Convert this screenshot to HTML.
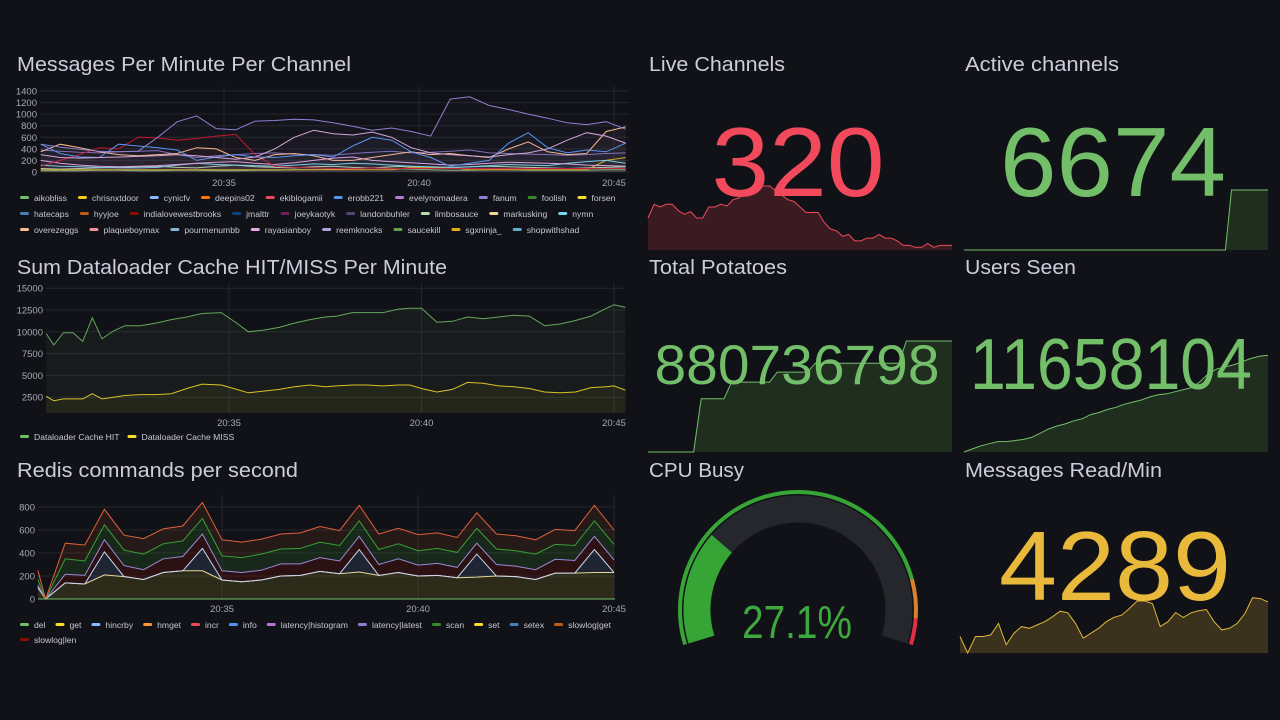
<!DOCTYPE html>
<html><head><meta charset="utf-8"><style>
html,body{margin:0;padding:0;background:#111217;}
svg{display:block;font-family:"Liberation Sans",sans-serif;}
.title{fill:#ccccdc;font-size:20px;}
.tick{fill:#a8a9b3;font-size:9.5px;}
.leg{fill:#c7c8d2;font-size:8.6px;}
</style></head><body>
<svg id="root" width="1280" height="720" viewBox="0 0 1280 720">
<rect width="1280" height="720" fill="#111217"/>
<text class="title" x="17" y="71" textLength="334" lengthAdjust="spacingAndGlyphs">Messages Per Minute Per Channel</text>
<text class="title" x="17" y="274" textLength="430" lengthAdjust="spacingAndGlyphs">Sum Dataloader Cache HIT/MISS Per Minute</text>
<text class="title" x="17" y="477" textLength="281" lengthAdjust="spacingAndGlyphs">Redis commands per second</text>
<text class="title" x="649" y="71" textLength="136" lengthAdjust="spacingAndGlyphs">Live Channels</text>
<text class="title" x="965" y="71" textLength="154" lengthAdjust="spacingAndGlyphs">Active channels</text>
<text class="title" x="649" y="274" textLength="138" lengthAdjust="spacingAndGlyphs">Total Potatoes</text>
<text class="title" x="965" y="274" textLength="111" lengthAdjust="spacingAndGlyphs">Users Seen</text>
<text class="title" x="649" y="477" textLength="95" lengthAdjust="spacingAndGlyphs">CPU Busy</text>
<text class="title" x="965" y="477" textLength="197" lengthAdjust="spacingAndGlyphs">Messages Read/Min</text>
<g id="g1"></g>
<g id="g2"></g>
<g id="g3"></g>
<g id="gs"></g>
</svg>
<script>
// ---------- Chart 1 data ----------
const times1 = [0.3,0.8,1.3,1.8,2.3,2.8,3.3,3.8,4.3,4.8,5.3,5.8,6.3,6.8,7.3,7.8,8.3,8.8,9.3,9.8,10.3,10.8,11.3,11.8,12.3,12.8,13.3,13.8,14.3,14.8,15.3];
const ticks1 = [0,200,400,600,800,1000,1200,1400];
const xTickLabels = ["20:35","20:40","20:45"];
const xTickTimes = [5,10,15];
const fanumVals = [480,430,390,360,350,360,600,870,970,750,730,880,890,910,900,850,790,720,760,700,620,1260,1300,1150,1080,1000,930,850,820,870,740];
const rayaVals = [300,250,240,250,260,270,280,300,280,250,220,260,400,600,720,660,640,690,600,420,330,300,280,260,300,330,400,550,680,620,500];
const indiaVals = [100,200,300,420,400,600,590,550,580,620,650,300,100,80,70,60,60,70,60,60,60,60,60,60,60,60,60,60,60,60,60];
const erobbVals = [480,320,260,250,480,450,420,380,200,260,300,260,250,280,300,260,450,600,550,350,250,100,150,200,500,680,420,330,380,350,500];
const hyyjoeVals = [350,480,420,350,300,280,300,320,420,400,250,200,300,320,280,200,200,250,300,350,300,320,280,250,400,520,350,300,320,700,780];
const landonVals = [380,360,340,330,350,360,370,300,250,280,300,320,330,310,300,290,320,340,360,330,340,360,380,330,320,310,300,290,300,320,330];
const sgxVals = [40,40,40,40,40,40,40,40,40,40,40,40,40,40,40,40,40,40,40,80,80,80,40,40,40,40,40,40,40,200,250];
const nymnVals = [120,100,90,80,70,70,80,120,150,130,120,110,100,120,140,130,150,140,120,100,90,80,90,110,130,120,110,150,180,200,150];
const limboVals = [60,50,60,70,80,90,100,80,70,100,120,90,80,70,90,100,80,70,90,100,80,70,90,100,90,80,70,60,70,80,90];
const plaqueVals = [200,150,120,100,90,100,110,130,150,170,180,150,130,160,200,240,260,200,180,160,140,120,130,150,170,160,150,140,120,110,100];
const aikoVals = [20,20,20,30,30,20,20,30,30,20,20,30,30,40,40,50,60,70,60,50,40,30,30,40,40,30,30,30,30,40,40];
const legend1Names = ["aikobliss","chrisnxtdoor","cynicfv","deepins02","ekiblogamii","erobb221","evelynomadera","fanum","foolish","forsen","hatecaps","hyyjoe","indialovewestbrooks","jmalttr","joeykaotyk","landonbuhler","limbosauce","markusking","nymn","overezeggs","plaqueboymax","pourmenumbb","rayasianboy","reemknocks","saucekill","sgxninja_","shopwithshad"];
const legend1Colors = ["#73bf69","#f2cc0c","#8ab8ff","#ff780a","#f2495c","#5794f2","#b877d9","#8f7fd0","#37872d","#fade2a","#447ebc","#c15c17","#890f02","#0a437c","#6d1f62","#584477","#b7dbab","#f4d598","#70dbed","#f9ba8f","#f29191","#82b5d8","#e5a8e2","#aea2e0","#629e51","#e5ac0e","#64b0c8"];

// ---------- Chart 2 data ----------
const times2 = [0.25,0.45,0.7,0.95,1.2,1.45,1.7,2.0,2.3,2.7,3.1,3.5,3.9,4.3,4.8,5.2,5.5,5.9,6.3,6.7,7.1,7.5,7.8,8.2,8.6,9.0,9.4,9.7,10.0,10.4,10.8,11.2,11.6,12.0,12.4,12.8,13.2,13.6,14.0,14.4,14.8,15.0,15.3];
const hitVals = [9800,8500,9900,9900,8900,11600,9200,10100,10700,10700,11000,11400,11700,12100,12200,11000,10000,10200,10500,11000,11400,11700,11800,12200,12200,12200,12600,12700,12700,11100,11200,11700,11500,11700,11900,11800,10700,10900,11300,11800,12700,13100,12800];
const missVals = [2600,2100,2300,2300,2300,2900,2300,2500,2700,2800,2800,2900,3500,4000,3900,3400,3000,3200,3400,3700,3900,3700,3800,3900,3900,3800,3900,3900,3500,3100,3400,4200,4100,3800,3700,3500,3100,3000,3100,3600,3700,3800,3300];
const ticks2 = [2500,5000,7500,10000,12500,15000];

// ---------- Chart 3 data ----------
const times3 = [0.3,0.5,1.0,1.5,2.0,2.5,3.0,3.5,4.0,4.5,5.0,5.5,6.0,6.5,7.0,7.5,8.0,8.5,9.0,9.5,10.0,10.5,11.0,11.5,12.0,12.5,13.0,13.5,14.0,14.5,15.0];
const getVals = [100,0,140,130,210,195,170,230,245,245,165,150,165,200,205,240,220,235,205,230,200,205,185,190,200,195,170,225,225,230,230];
const hincrbyVals = [0,0,0,0,200,0,0,0,0,195,0,0,0,0,0,0,0,195,0,0,0,0,0,200,0,0,0,0,0,200,0];
const slowlenVals = [20,0,75,75,105,95,85,120,125,125,80,80,85,105,100,120,110,115,95,120,95,105,90,95,100,90,85,120,110,115,110];
const scanVals = [50,0,135,125,130,135,135,130,135,135,130,130,140,130,135,135,135,135,130,130,125,130,130,130,135,135,135,130,130,135,135];
const slowgetVals = [80,0,135,140,135,130,135,130,130,140,140,135,130,130,135,135,130,135,135,135,140,135,130,135,130,130,125,130,130,135,125];
const ticks3 = [0,200,400,600,800];
const legend3Names = ["del","get","hincrby","hmget","incr","info","latency|histogram","latency|latest","scan","set","setex","slowlog|get","slowlog|len"];
const legend3Colors = ["#73bf69","#fade2a","#8ab8ff","#ff9830","#f2495c","#5794f2","#b877d9","#8f7fd0","#37872d","#fade2a","#447ebc","#c15c17","#890f02"];

// ---------- Stat sparkline data ----------
const liveVals = [60,75,72,75,75,68,64,67,60,60,72,72,75,73,80,82,90,92,95,95,95,90,85,80,78,72,66,66,66,55,48,46,40,42,35,35,38,38,42,38,38,35,30,30,28,28,32,28,30,30,30];
const activeVals = [0,0,0,0,0,0,0,0,0,0,0,0,0,0,0,0,0,0,0,0,0,0,0,0,0,0,0,0,0,0,0,0,0,0,0,0,0,0,0,0,0,0,0,0,1,1,1,1,1,1,1];
const potatoVals = [0,0,0,0,0,0,0,0.48,0.48,0.48,0.48,0.63,0.63,0.63,0.63,0.63,0.63,0.72,0.72,0.72,0.72,0.72,0.8,0.8,0.8,0.8,0.8,0.8,0.8,0.8,0.8,0.8,0.8,0.8,1,1,1,1,1,1,1];
const usersVals = [0,0.03,0.06,0.08,0.1,0.1,0.11,0.12,0.14,0.18,0.22,0.25,0.27,0.3,0.32,0.36,0.38,0.41,0.43,0.46,0.48,0.5,0.53,0.55,0.56,0.58,0.6,0.62,0.68,0.76,0.8,0.82,0.84,0.87,0.9,0.92,0.93];
const readVals = [50,0,50,50,55,90,25,60,80,75,85,95,110,127,122,90,45,60,75,95,108,115,135,158,158,150,80,95,123,108,122,128,132,95,70,75,90,120,168,165,155];
const cpuValue = 27.1;

const NS = "http://www.w3.org/2000/svg";
function mk(parent, tag, attrs){const e=document.createElementNS(NS,tag);for(const k in attrs)e.setAttribute(k,attrs[k]);parent.appendChild(e);return e;}
function pathOf(xs,ys){return xs.map((x,i)=>(i?"L":"M")+x.toFixed(1)+","+ys[i].toFixed(1)).join("");}

function axes(g, xS, yS, x0, x1, yTicks, yTop, yBot, labelX, xLabY){
  yTicks.forEach(v=>{
    const y=yS(v);
    const l=mk(g,"line",{x1:x0,x2:x1,y1:y,y2:y,stroke:"#24262c","stroke-width":1});
    
    
    const t=mk(g,"text",{x:labelX,y:y+3.5,"text-anchor":"end",class:"tick"});t.textContent=v;
    
    
  });
  xTickTimes.forEach((tm,i)=>{
    const x=xS(tm);
    const l=mk(g,"line",{x1:x,x2:x,y1:yTop,y2:yBot,stroke:"#24262c","stroke-width":1});
    
    
    const t=mk(g,"text",{x:x,y:xLabY,"text-anchor":"middle",class:"tick"});t.textContent=xTickLabels[i];
    
    
  });
}
function legend(g, names, colors, x0, y0, breaks, rowH, gap){
  let x=x0,y=y0;
  names.forEach((n,i)=>{
    if(breaks.indexOf(i)>=0){x=x0;y+=rowH;}
    const t=mk(g,"text",{x:0,y:0,class:"leg"});t.textContent=n;
    const w=t.getComputedTextLength();
    const s=mk(g,"rect",{x:x,y:y-2,width:9,height:3,rx:1.5,fill:colors[i]});
    
    
    t.setAttribute("x",x+14);t.setAttribute("y",y+3);
    
    
    x+=14+w+gap;
  });
}

// Chart 1
(function(){
  const g=document.getElementById("g1");
  const xS=t=>224+(t-5)*39, yS=v=>172-v*(81/1400);
  axes(g,xS,yS,40,629,ticks1,86,172,37,186);
  const series=[[aikoVals,"#73bf69"],[limboVals,"#b7dbab"],[sgxVals,"#e5ac0e"],[nymnVals,"#70dbed"],[plaqueVals,"#e5a8e2"],[landonVals,"#806eb7"],[indiaVals,"#c4162a"],[hyyjoeVals,"#f9ba8f"],[erobbVals,"#5794f2"],[rayaVals,"#d8a8d8"],[fanumVals,"#8f7fd0"]];
  series.forEach(([vals,c])=>{
    const xs=times1.map(xS), ys=vals.map(yS);
    const a=mk(g,"path",{d:pathOf(xs,ys)+"L"+xs[xs.length-1]+",172L"+xs[0]+",172Z",fill:c,"fill-opacity":0.03});
    
    
    const p=mk(g,"path",{d:pathOf(xs,ys),fill:"none",stroke:c,"stroke-width":1});
    
    
  });
  const lg=mk(g,"g",{});
  
  
  legend(lg,legend1Names,legend1Colors,20,198,[10,19],16,11);
})();

// Chart 2
(function(){
  const g=document.getElementById("g2");
  const xS=t=>229+(t-5)*38.5, yS=v=>419-v*(109/12500);
  axes(g,xS,yS,46,625,ticks2,283,413,43,426);
  [[hitVals,"#73bf69"],[missVals,"#fade2a"]].forEach(([vals,c],k)=>{
    const xs=times2.map(xS), ys=vals.map(yS);
    const a=mk(g,"path",{d:pathOf(xs,ys)+"L"+xs[xs.length-1]+",413L"+xs[0]+",413Z",fill:c,"fill-opacity":0.06});
    
    
    const p=mk(g,"path",{d:pathOf(xs,ys),fill:"none",stroke:c,"stroke-width":1,"stroke-opacity":0.85});
    
    
  });
  const lg=mk(g,"g",{});
  
  
  legend(lg,["Dataloader Cache HIT","Dataloader Cache MISS"],["#73bf69","#fade2a"],20,437,[],16,8);
})();

// Chart 3 (stacked)
(function(){
  const g=document.getElementById("g3");
  const xS=t=>222+(t-5)*39.2, yS=v=>599-v*(92/800);
  axes(g,xS,yS,38,615,ticks3,495,599,35,612);
  const layers=[[getVals,"#fade2a",0.12],[hincrbyVals,"#8ab8ff",0.12],[slowlenVals,"#890f02",0.22],[scanVals,"#37872d",0.2],[slowgetVals,"#c15c17",0.12]];
  const lineCols=["#e8d89a","#c8d4f0","#9a88d8","#37a036","#e0603a"];
  let base=times3.map(()=>0);
  const xs=times3.map(xS);
  const mkLine=[];
  layers.forEach(([vals,c,op],i)=>{
    const top=base.map((b,j)=>b+vals[j]);
    const yt=top.map(yS), yb=base.map(yS).reverse();
    const a=mk(g,"path",{d:pathOf(xs,yt)+"L"+pathOf(xs.slice().reverse(),yb).slice(1)+"Z",fill:c,"fill-opacity":op});
    
    
    mkLine.push([yt,lineCols[i]]);
    base=top;
  });
  mkLine.forEach(([yt,c])=>{
    const p=mk(g,"path",{d:pathOf(xs,yt),fill:"none",stroke:c,"stroke-width":1});
    
    
  });
  const bl=mk(g,"line",{x1:38,x2:615,y1:599,y2:599,stroke:"#73bf69","stroke-width":1});
  
  
  const lg=mk(g,"g",{});
  
  
  legend(lg,legend3Names,legend3Colors,20,625,[12],15,10);
})();

// Stats
(function(){
  const g=document.getElementById("gs");
  function spark(vals,x0,x1,yTop,yBot,vmin,vmax,c,fillC,name){
    const xS=i=>x0+i*(x1-x0)/(vals.length-1), yS=v=>yBot-(v-vmin)/(vmax-vmin)*(yBot-yTop);
    const xs=vals.map((v,i)=>xS(i)), ys=vals.map(yS);
    const a=mk(g,"path",{d:pathOf(xs,ys)+"L"+x1+","+yBot+"L"+x0+","+yBot+"Z",fill:fillC});
    
    
    const p=mk(g,"path",{d:pathOf(xs,ys),fill:"none",stroke:c,"stroke-width":1});
    
    
  }
  function big(txt,cx,y,size,len,c,name){
    const t=mk(g,"text",{x:cx,y:y,"text-anchor":"middle","font-size":size,fill:c,textLength:len,lengthAdjust:"spacingAndGlyphs"});
    t.textContent=txt;
    
    
  }
  spark(liveVals,648,952,186,250,25,95,"#f2495c","#3a1b22","live-channels");
  big("320",798,196,98,173,"#f2495c","live-channels-value");
  spark(activeVals,964,1268,190,250,0,1,"#73bf69","#1f2e1f","active-channels");
  big("6674",1113,196,98,226,"#73bf69","active-channels-value");
  spark(potatoVals,648,952,341,452,0,1,"#73bf69","#1f2e1f","total-potatoes");
  big("880736798",797,384,56,285,"#73bf69","total-potatoes-value");
  spark(usersVals,964,1268,348,452,0,1,"#73bf69","#1f2e1f","users-seen");
  big("11658104",1111,389,72,282,"#73bf69","users-seen-value");
  spark(readVals,960,1268,597,653,0,170,"#e0b43a","#3a321c","messages-read");
  big("4289",1115,600,98,232,"#e8b93a","messages-read-value");

  // Gauge
  const cx=798,cy=610, a0=197, sweep=214;
  function pt(r,deg){const rad=deg*Math.PI/180;return [cx+r*Math.cos(rad), cy-r*Math.sin(rad)];}
  function arc(r,d0,d1){const p0=pt(r,d0),p1=pt(r,d1);const large=Math.abs(d0-d1)>180?1:0;return "M"+p0[0]+","+p0[1]+"A"+r+","+r+" 0 "+large+" 1 "+p1[0]+","+p1[1];}
  const deg=f=>a0-f*sweep;
  const thr=[[0,0.85,"#37a436"],[0.85,0.94,"#d9822b"],[0.94,1,"#e02f44"]];
  thr.forEach(([f0,f1,c])=>{
    const p=mk(g,"path",{d:arc(118,deg(f0),deg(f1)),fill:"none",stroke:c,"stroke-width":4});
    
    
  });
  const bg=mk(g,"path",{d:arc(101,deg(0),deg(1)),fill:"none",stroke:"#25272d","stroke-width":27});
  
  
  const fg=mk(g,"path",{d:arc(101,deg(0),deg(cpuValue/100)),fill:"none",stroke:"#37a436","stroke-width":27});
  
  
  big(cpuValue.toFixed(1)+"%",797,638,46,110,"#3ea83e","cpu-busy-value");
})();
</script>
</body></html>
